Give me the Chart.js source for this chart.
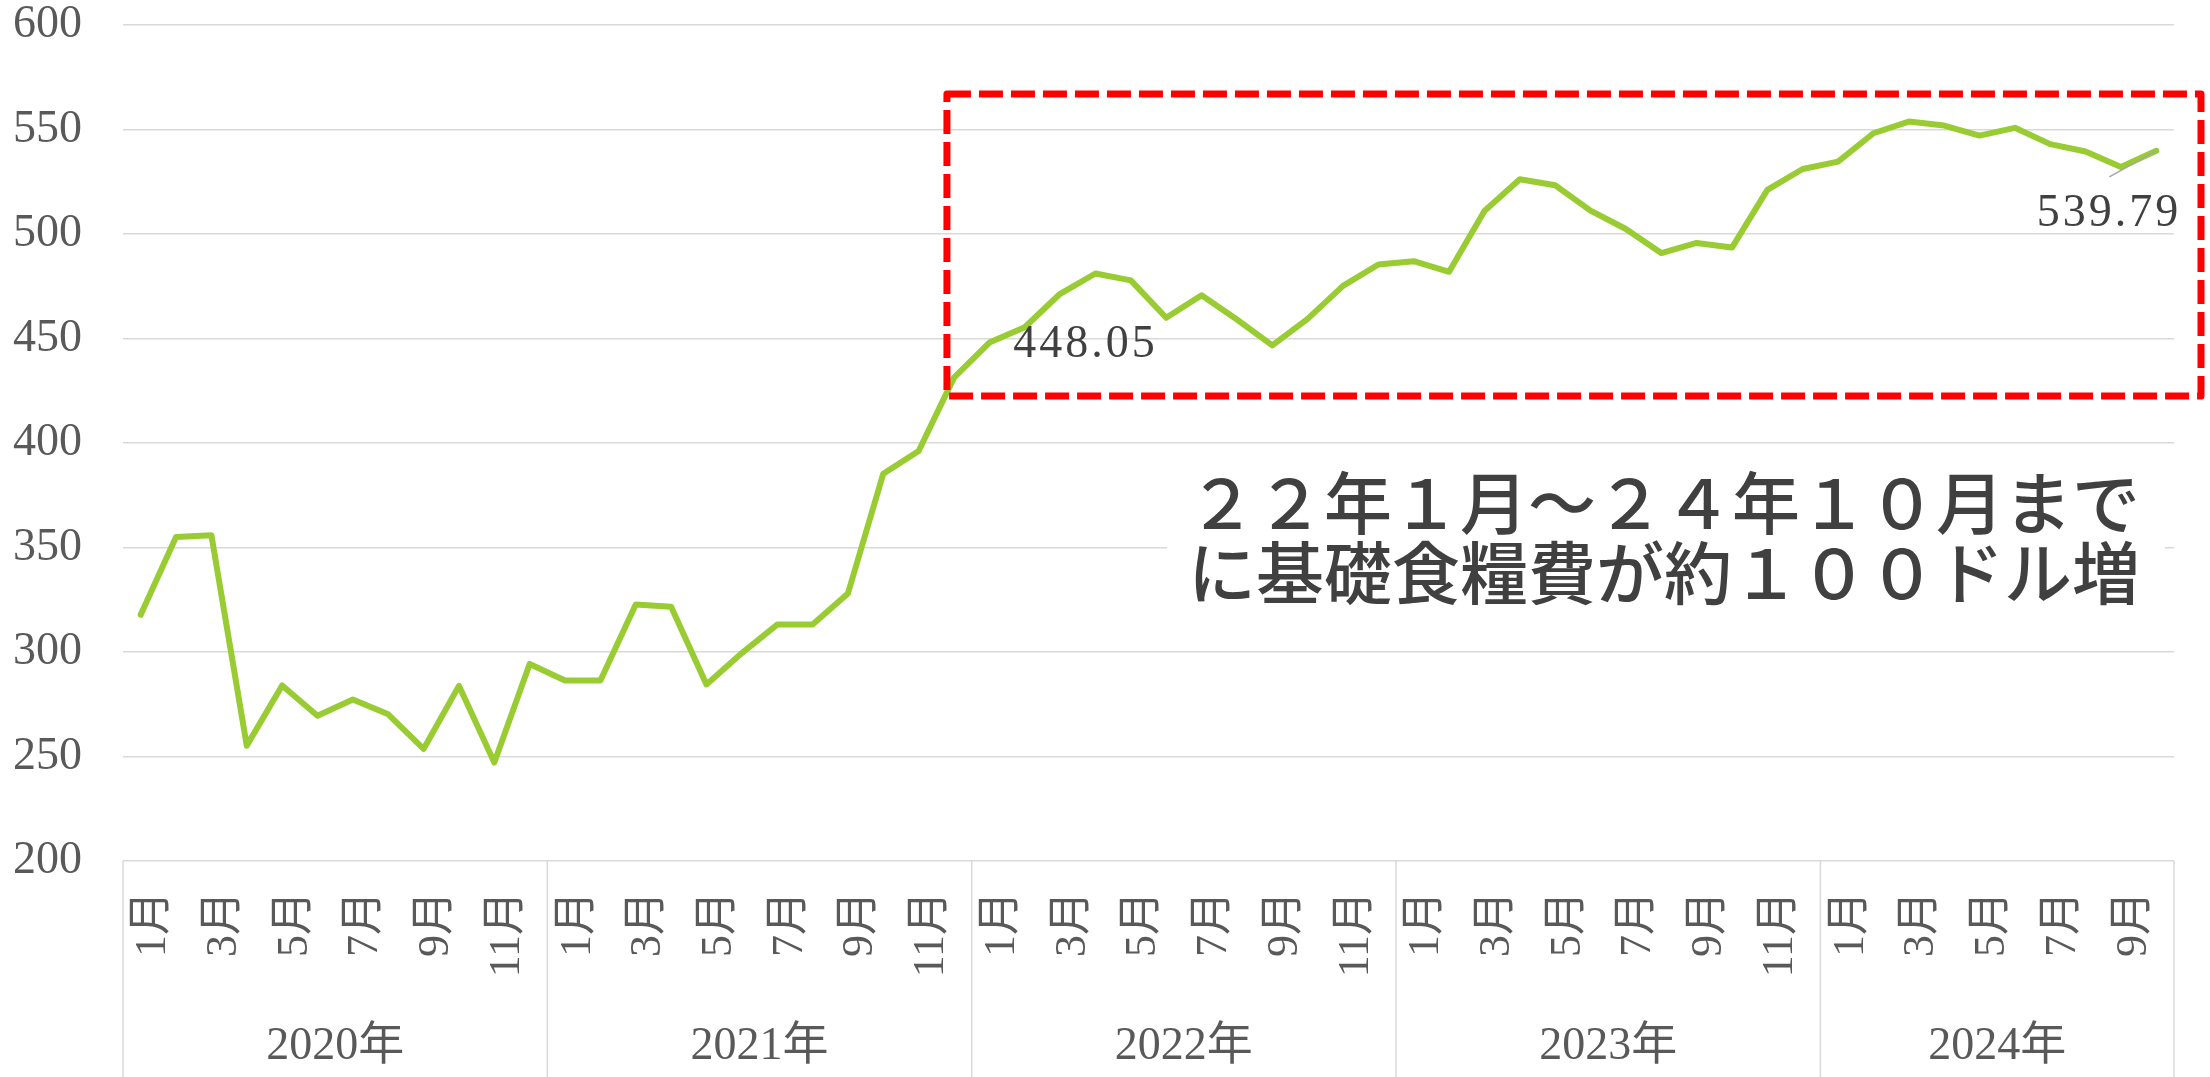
<!DOCTYPE html>
<html>
<head>
<meta charset="utf-8">
<script src="https://cdn.jsdelivr.net/npm/chart.js@4.4.1/dist/chart.umd.min.js"></script>
<style>
  html, body { margin: 0; padding: 0; background: #fff; }
  #wrap { width: 2210px; height: 1077px; }
</style>
</head>
<body>
<div id="wrap"><canvas id="foodChart" width="2210" height="1077"></canvas></div>
<script>
// monthly basic food cost (USD)
const years = ['2020年', '2021年', '2022年', '2023年', '2024年']
const monthNames = ['1月', '2月', '3月', '4月', '5月', '6月', '7月', '8月', '9月', '10月', '11月', '12月']
const cost2020 = [317.8, 355.0, 355.9, 255.2, 284.0, 269.5, 277.3, 270.2, 253.6, 283.8, 247.1, 294.3]
const cost2021 = [286.4, 286.4, 322.7, 321.6, 284.5, 299.5, 313.1, 313.1, 328.0, 385.3, 396.2, 431.3]
const cost2022 = [448.05, 455.4, 471.4, 481.1, 477.8, 459.9, 470.7, 459.1, 446.7, 459.4, 475.2, 485.4]
const cost2023 = [487.0, 481.9, 511.0, 526.2, 523.3, 511.2, 502.4, 490.9, 495.7, 493.5, 521.1, 531.1]
const cost2024 = [534.6, 548.2, 553.8, 551.9, 547.1, 550.8, 543.0, 539.5, 532.1, 539.79]
const yMin = 200, yMax = 600, yStep = 50
const labelledIdx = [24, 57]   // Jan 2022 and Oct 2024 get value labels
const noteLines = ['２２年１月～２４年１０月まで', 'に基礎食糧費が約１００ドル増']

const series = [cost2020, cost2021, cost2022, cost2023, cost2024]
let labels = [], values = [], groups = []
series.forEach((arr, yi) => {
  groups.push({ name: years[yi], start: labels.length, count: arr.length })
  arr.forEach((v, m) => {
    labels.push(monthNames[m])
    values.push(v)
  })
})

const serif = "'Liberation Serif', 'Noto Sans CJK JP', serif"
const axisColor = '#595959'
const gridColor = '#d9d9d9'

const decor = {
  id: 'decor',
  afterDraw(chart) {
    const { ctx, chartArea, scales: { x, y } } = chart
    const step = x.getPixelForValue(1) - x.getPixelForValue(0)
    ctx.save()

    // year groups under the month ticks
    ctx.strokeStyle = gridColor
    ctx.lineWidth = 1.5
    ctx.fillStyle = axisColor
    ctx.font = '46px ' + serif
    ctx.textAlign = 'center'
    ctx.textBaseline = 'middle'
    groups.forEach((g, i) => {
      const left = x.getPixelForValue(g.start) - step / 2
      const right = x.getPixelForValue(g.start + g.count - 1) + step / 2
      ctx.beginPath()
      ctx.moveTo(left, chartArea.bottom)
      ctx.lineTo(left, chart.height)
      if (i == groups.length - 1) {
        ctx.moveTo(right, chartArea.bottom)
        ctx.lineTo(right, chart.height)
      }
      ctx.stroke()
      ctx.fillText(g.name, (left + right) / 2, chartArea.bottom + 186)
    })

    // value labels
    const meta = chart.getDatasetMeta(0)
    ctx.fillStyle = '#404040'
    ctx.font = '46px ' + serif
    ctx.letterSpacing = '3px'
    let p = meta.data[labelledIdx[0]]
    ctx.textAlign = 'left'
    ctx.fillText(values[labelledIdx[0]].toFixed(2), p.x + 24, p.y + 2)
    p = meta.data[labelledIdx[1]]
    ctx.strokeStyle = '#a6a6a6'
    ctx.lineWidth = 1.5
    ctx.beginPath()
    ctx.moveTo(p.x - 47, p.y + 26)
    ctx.lineTo(p.x, p.y)
    ctx.stroke()
    ctx.textAlign = 'right'
    ctx.fillText(values[labelledIdx[1]].toFixed(2), p.x + 25, p.y + 63)
    ctx.letterSpacing = '0px'

    // red dashed highlight box
    const bx0 = x.getPixelForValue(22.8)
    const bx1 = chartArea.right + 27
    const by0 = y.getPixelForValue(567)
    const by1 = y.getPixelForValue(422.5)
    ctx.strokeStyle = '#ff0000'
    ctx.lineWidth = 7
    ctx.lineJoin = 'round'
    ctx.setLineDash([24, 8])
    ctx.strokeRect(bx0, by0, bx1 - bx0, by1 - by0)
    ctx.setLineDash([])

    // note text box
    ctx.fillStyle = '#ffffff'
    ctx.fillRect(1167, 458, 998, 180)
    ctx.fillStyle = '#404040'
    ctx.font = '500 68px "Noto Sans CJK JP"'
    ctx.textAlign = 'center'
    ctx.fillText(noteLines[0], 1664, 503)
    ctx.fillText(noteLines[1], 1664, 573)

    ctx.restore()
  }
}

new Chart(document.getElementById('foodChart'), {
  type: 'line',
  data: {
    labels: labels,
    datasets: [{
      data: values,
      borderColor: '#99cc33',
      borderWidth: 6,
      pointRadius: 0,
      tension: 0,
      borderJoinStyle: 'round',
      borderCapStyle: 'round'
    }]
  },
  options: {
    responsive: false,
    animation: false,
    devicePixelRatio: 1,
    layout: { padding: { left: 0, right: 36, top: 25, bottom: 0 } },
    plugins: { legend: { display: false }, tooltip: { enabled: false } },
    scales: {
      x: {
        type: 'category',
        offset: true,
        grid: { display: false, drawTicks: false },
        border: { display: false },
        ticks: {
          autoSkip: false,
          minRotation: 90,
          maxRotation: 90,
          padding: 30,
          labelOffset: 13,
          color: axisColor,
          font: { family: serif, size: 44, lineHeight: 1 },
          callback: function (val, i) {
            const l = this.getLabelForValue(val)
            return parseInt(l) % 2 == 1 ? l : ''
          }
        },
        afterFit: (s) => {
          s.height = 216
          s.paddingLeft = 0
          s.paddingRight = 0
        }
      },
      y: {
        min: yMin,
        max: yMax,
        grid: { color: gridColor, lineWidth: 1.5, drawTicks: false },
        border: { display: false },
        ticks: {
          stepSize: yStep,
          padding: 41,
          color: axisColor,
          font: { family: serif, size: 46, lineHeight: 1 }
        },
        afterFit: (s) => {
          s.width = 123
          s.paddingTop = 0
          s.paddingBottom = 0
        }
      }
    }
  },
  plugins: [decor]
})
</script>
</body>
</html>
